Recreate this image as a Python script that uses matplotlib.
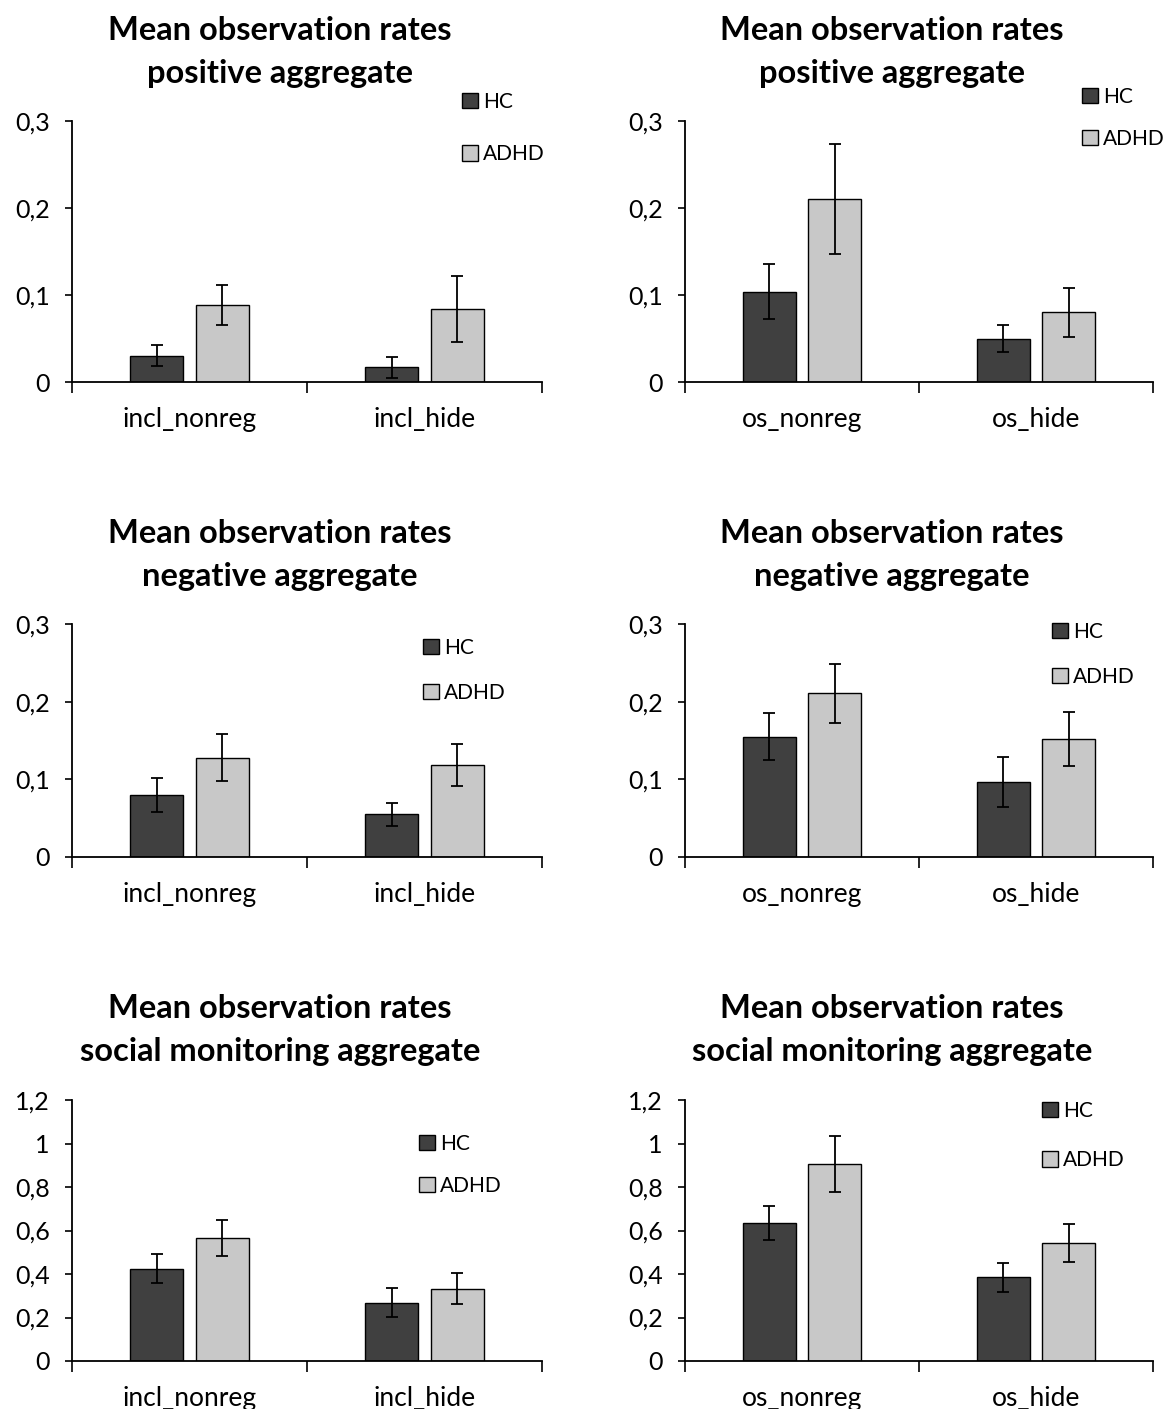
import matplotlib
matplotlib.use("Agg")
import matplotlib.pyplot as plt
from matplotlib.patches import Patch

plt.rcParams['font.family'] = ['Lato', 'DejaVu Sans']

W, H = 1164, 1409

groups = ["HC", "ADHD"]
colors = ["#404040", "#C8C8C8"]

cats_incl = ["incl_nonreg", "incl_hide"]
cats_os = ["os_nonreg", "os_hide"]

# positive aggregate
pos_incl_hc = [0.030, 0.017]
pos_incl_hc_err = [0.012, 0.012]
pos_incl_adhd = [0.089, 0.084]
pos_incl_adhd_err = [0.023, 0.038]
pos_os_hc = [0.104, 0.050]
pos_os_hc_err = [0.032, 0.016]
pos_os_adhd = [0.210, 0.080]
pos_os_adhd_err = [0.063, 0.028]

# negative aggregate
neg_incl_hc = [0.080, 0.055]
neg_incl_hc_err = [0.022, 0.015]
neg_incl_adhd = [0.128, 0.118]
neg_incl_adhd_err = [0.030, 0.027]
neg_os_hc = [0.155, 0.097]
neg_os_hc_err = [0.030, 0.032]
neg_os_adhd = [0.211, 0.152]
neg_os_adhd_err = [0.038, 0.035]

# social monitoring aggregate
soc_incl_hc = [0.424, 0.268]
soc_incl_hc_err = [0.067, 0.066]
soc_incl_adhd = [0.567, 0.333]
soc_incl_adhd_err = [0.083, 0.072]
soc_os_hc = [0.634, 0.385]
soc_os_hc_err = [0.077, 0.066]
soc_os_adhd = [0.905, 0.543]
soc_os_adhd_err = [0.129, 0.087]

ticks_small = [0, 0.1, 0.2, 0.3]
ticklabels_small = ["0", "0,1", "0,2", "0,3"]
ticks_big = [0, 0.2, 0.4, 0.6, 0.8, 1.0, 1.2]
ticklabels_big = ["0", "0,2", "0,4", "0,6", "0,8", "1", "1,2"]

title_line1 = "Mean observation rates"
titles_line2 = ["positive aggregate", "negative aggregate", "social monitoring aggregate"]

fig = plt.figure(figsize=(W / 100, H / 100), dpi=100)


def add_ax(x0, x1, ytop, ybot):
    return fig.add_axes([x0 / W, 1 - ybot / H, (x1 - x0) / W, (ybot - ytop) / H])


panels = [
    (cats_incl, pos_incl_hc, pos_incl_hc_err, pos_incl_adhd, pos_incl_adhd_err, ticks_small, ticklabels_small,
     (72, 542, 121, 382), 280, 30, (462, 92), 1.55, titles_line2[0]),
    (cats_os, pos_os_hc, pos_os_hc_err, pos_os_adhd, pos_os_adhd_err, ticks_small, ticklabels_small,
     (685, 1153, 121, 382), 892, 30, (1082, 87), 1.05, titles_line2[0]),
    (cats_incl, neg_incl_hc, neg_incl_hc_err, neg_incl_adhd, neg_incl_adhd_err, ticks_small, ticklabels_small,
     (72, 542, 624, 857), 280, 533, (423, 638), 1.2, titles_line2[1]),
    (cats_os, neg_os_hc, neg_os_hc_err, neg_os_adhd, neg_os_adhd_err, ticks_small, ticklabels_small,
     (685, 1153, 624, 857), 892, 533, (1052, 622), 1.2, titles_line2[1]),
    (cats_incl, soc_incl_hc, soc_incl_hc_err, soc_incl_adhd, soc_incl_adhd_err, ticks_big, ticklabels_big,
     (72, 542, 1100, 1361), 280, 1008, (419, 1134), 1.05, titles_line2[2]),
    (cats_os, soc_os_hc, soc_os_hc_err, soc_os_adhd, soc_os_adhd_err, ticks_big, ticklabels_big,
     (685, 1153, 1100, 1361), 892, 1008, (1042, 1101), 1.4, titles_line2[2]),
]

bw = 0.225
off = 0.14

for (cats, hc, hce, ad, ade, ticks, tlabels, rect, tcx, ty, lxy, lsp, t2) in panels:
    ax = add_ax(*rect)
    xs = list(range(len(cats)))
    ax.bar([x - off for x in xs], hc, width=bw, color=colors[0], edgecolor="black", linewidth=1.0, zorder=2)
    ax.bar([x + off for x in xs], ad, width=bw, color=colors[1], edgecolor="black", linewidth=1.0, zorder=2)
    ax.errorbar([x - off for x in xs], hc, yerr=hce, fmt="none", ecolor="black", elinewidth=1.3, capsize=4,
                capthick=1.3, zorder=3)
    ax.errorbar([x + off for x in xs], ad, yerr=ade, fmt="none", ecolor="black", elinewidth=1.3, capsize=4,
                capthick=1.3, zorder=3)
    ax.set_xlim(-0.5, len(cats) - 0.5)
    ax.set_ylim(ticks[0], ticks[-1])
    ax.set_yticks(ticks)
    ax.set_yticklabels(tlabels, fontsize=18)
    ax.set_xticks([i - 0.5 for i in range(len(cats) + 1)])
    ax.set_xticklabels([""] * (len(cats) + 1))
    ax.set_xticks(xs, minor=True)
    ax.set_xticklabels(cats, minor=True, fontsize=19)
    ax.tick_params(axis="x", which="major", length=8, width=1.2, direction="out")
    ax.tick_params(axis="x", which="minor", length=0, pad=18)
    ax.tick_params(axis="y", length=5, width=1.2, direction="out", pad=11)
    for s in ["top", "right"]:
        ax.spines[s].set_visible(False)
    for s in ["left", "bottom"]:
        ax.spines[s].set_linewidth(1.3)
        ax.spines[s].set_color("black")
    ax.patch.set_alpha(0)

    fig.text(tcx / W, 1 - ty / H, title_line1, ha="center", va="center", fontsize=23.5, fontweight="bold")
    fig.text(tcx / W, 1 - (ty + 43) / H, t2, ha="center", va="center", fontsize=23.5, fontweight="bold")

    handles = [Patch(facecolor=colors[0], edgecolor="black", linewidth=1.0),
               Patch(facecolor=colors[1], edgecolor="black", linewidth=1.0)]
    fig.legend(handles, groups, loc="upper left", bbox_to_anchor=(lxy[0] / W, 1 - lxy[1] / H),
               frameon=False, fontsize=15, handlelength=0.75, handleheight=0.75, handletextpad=0.25,
               labelspacing=lsp, borderpad=0, borderaxespad=0)

fig.savefig("out.png", dpi=100)
